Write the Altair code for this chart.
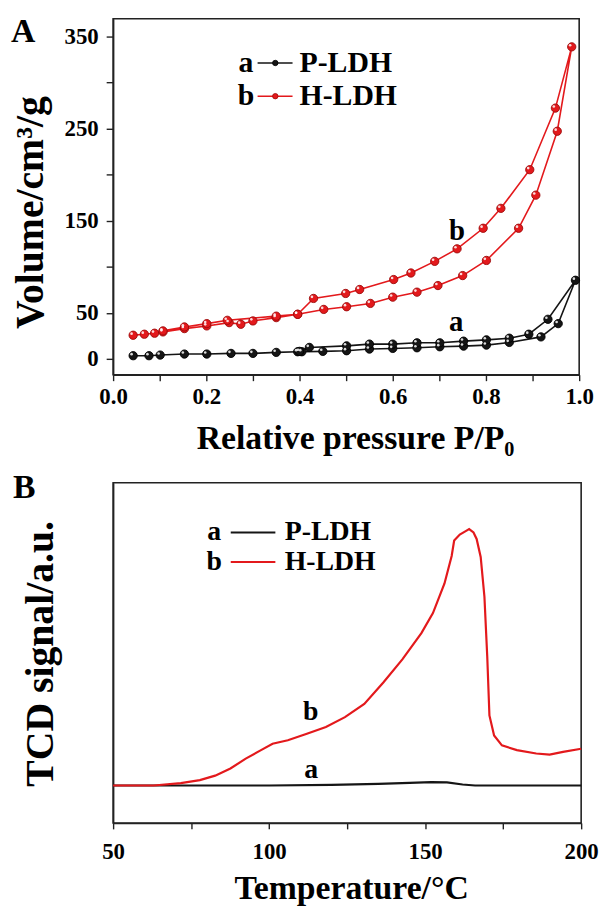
import altair as alt
import pandas as pd

FONT = "Liberation Serif"
RED = "#e3191c"
DARKRED = "#9b0a0a"
BLACK = "#151515"

# ---------------- Panel A : N2 adsorption-desorption isotherms ----------------
samples = ["P-LDH", "H-LDH"]

p_ads_x = [0.043, 0.077, 0.101, 0.153, 0.201, 0.253, 0.300, 0.350, 0.396, 0.405, 0.450,
           0.501, 0.550, 0.600, 0.652, 0.701, 0.752, 0.801, 0.850, 0.918, 0.955, 0.992]
p_ads_y = [3.6, 3.6, 4.3, 5.4, 5.4, 6.1, 6.1, 7.2, 7.9, 7.9, 8.3,
           9.0, 10.8, 11.5, 12.2, 13.3, 14.0, 15.1, 18.0, 24.0, 38.4, 85.4]
p_des_x = [0.933, 0.892, 0.850, 0.801, 0.752, 0.701, 0.652, 0.600, 0.550, 0.501, 0.421, 0.400]
p_des_y = [43.1, 26.9, 22.6, 20.8, 19.4, 17.6, 17.6, 16.2, 16.2, 14.3, 12.6, 8.3]

h_ads_x = [0.043, 0.067, 0.089, 0.107, 0.153, 0.201, 0.249, 0.274, 0.300, 0.350, 0.396, 0.452,
           0.501, 0.552, 0.600, 0.652, 0.697, 0.750, 0.801, 0.870, 0.907, 0.953, 0.984]
h_ads_y = [25.8, 26.9, 28.0, 29.4, 33.0, 35.9, 39.5, 37.7, 41.3, 44.9, 48.5, 53.8,
           56.7, 60.3, 67.1, 72.5, 79.7, 90.5, 106.9, 141.8, 177.7, 247.0, 338.5]
h_des_x = [0.949, 0.894, 0.832, 0.794, 0.738, 0.690, 0.639, 0.602, 0.529, 0.499, 0.430,
           0.396, 0.350, 0.245, 0.201, 0.153, 0.107]
h_des_y = [272.1, 205.3, 163.4, 141.8, 119.5, 105.9, 93.3, 86.2, 75.4, 71.1, 65.7,
           48.5, 46.5, 42.0, 38.4, 34.8, 30.5]

a_xticks = [0.0, 0.1, 0.2, 0.3, 0.4, 0.5, 0.6, 0.7, 0.8, 0.9, 1.0]
a_yticks = list(range(0, 351, 25))
a_ylabels = [0, 50, 150, 250, 350]

curve_tags = ["a", "b"]

# ---------------- Panel B : TCD signal ----------------
tcd_h_t = [50, 63, 71.7, 77.8, 82.7, 87.6, 92.5, 97.4, 101.1, 106, 112.1, 118.2, 124.3, 130.5,
           136.6, 142.7, 148.8, 152.5, 156.2, 158.5, 159.3, 161.1, 163, 164.1, 165.5, 166.5,
           167.8, 169.0, 169.9, 170.6, 172.1, 174.6, 179.4, 185.6, 189.9, 194.2, 200]
tcd_h_s = [11.0, 11.0, 11.7, 12.6, 13.9, 16.0, 18.9, 21.4, 23.3, 24.3, 26.2, 28.2, 31.1, 35.0,
           41.3, 48.1, 55.8, 61.7, 70.4, 78.5, 83.0, 84.8, 85.8, 86.4, 85.4, 83.5,
           78.2, 66.5, 49.0, 31.6, 25.7, 22.8, 21.4, 20.4, 20.1, 20.9, 21.8]
tcd_p_t = [50, 100, 120, 135, 145, 152, 157, 162, 166, 200]
tcd_p_s = [11.0, 11.0, 11.2, 11.5, 11.8, 12.0, 11.9, 11.3, 11.0, 11.0]

b_xticks = [50, 75, 100, 125, 150, 175, 200]

panel_letters = ["A", "B"]

# ---------------- build frames ----------------
def iso(name, ax, ay, dx, dy):
    xs = ax + dx
    ys = ay + dy
    return pd.DataFrame({"sample": name, "order": list(range(len(xs))), "p": xs, "v": ys})

dfA = pd.concat([iso(samples[0], p_ads_x, p_ads_y, p_des_x, p_des_y),
                 iso(samples[1], h_ads_x, h_ads_y, h_des_x, h_des_y)], ignore_index=True)

dfB = pd.concat([
    pd.DataFrame({"sample": samples[0], "t": tcd_p_t, "s": tcd_p_s}),
    pd.DataFrame({"sample": samples[1], "t": tcd_h_t, "s": tcd_h_s}),
], ignore_index=True)

col_scale = alt.Scale(domain=samples, range=[BLACK, RED])
stroke_scale = alt.Scale(domain=samples, range=["#000000", DARKRED])

LBL = 23
TTL_X = 34
TTL_Y = 40

# ---------------- Panel A chart ----------------
xA = alt.X("p:Q", scale=alt.Scale(domain=[0, 1], nice=False, zero=False),
           axis=alt.Axis(values=a_xticks, labelFlush=False, labelOverlap=False,
                         labelExpr="(round(datum.value*10) % 2 == 0) ? format(datum.value, '.1f') : ''",
                         title="Relative pressure P/P₀", titleX=244, titleY=64,
                         titleBaseline="middle", titleFontSize=TTL_X,
                         tickSize=6, labelPadding=5, grid=False))
yA = alt.Y("v:Q", scale=alt.Scale(domain=[-17, 369], nice=False, zero=False),
           axis=alt.Axis(values=a_yticks, labelOverlap=False,
                         labelExpr="indexof(%s, datum.value) >= 0 ? datum.label : ''" % str(a_ylabels),
                         title="Volume/cm³/g", titleX=-83, titleY=195, titleBaseline="middle",
                         titleFontSize=TTL_Y, tickSize=7, labelPadding=8, grid=False))

linesA = alt.Chart(dfA).mark_line(strokeWidth=1.6).encode(
    x=xA, y=yA, color=alt.Color("sample:N", scale=col_scale, legend=None),
    detail="sample:N", order="order:Q")
ptsA = alt.Chart(dfA).mark_point(filled=True, size=70, strokeWidth=0.9, opacity=1).encode(
    x="p:Q", y="v:Q",
    color=alt.Color("sample:N", scale=col_scale, legend=None),
    stroke=alt.Stroke("sample:N", scale=stroke_scale, legend=None))
hiA = alt.Chart(dfA).mark_point(filled=True, size=7, color="white", opacity=0.85).encode(
    x="p:Q", y="v:Q", xOffset=alt.value(-1.6), yOffset=alt.value(-1.6))

tagsA = pd.DataFrame({"tag": curve_tags, "p": [0.736, 0.738], "v": [40, 139]})
tagA = alt.Chart(tagsA).mark_text(font=FONT, fontWeight="bold", fontSize=29, color="black").encode(
    x="p:Q", y="v:Q", text="tag:N")

legA_line = pd.DataFrame({"sample": [samples[0]] * 2 + [samples[1]] * 2,
                          "p": [0.31, 0.385, 0.31, 0.385], "v": [321, 321, 285, 285]})
legA_pt = pd.DataFrame({"sample": samples, "p": [0.348, 0.348], "v": [321, 285]})
legA_txt = pd.DataFrame({"txt": curve_tags + samples,
                         "p": [0.285, 0.285, 0.40, 0.40], "v": [321, 285, 321, 285],
                         "al": ["center", "center", "left", "left"]})
legA1 = alt.Chart(legA_line).mark_line(strokeWidth=1.6).encode(
    x="p:Q", y="v:Q", color=alt.Color("sample:N", scale=col_scale, legend=None), detail="sample:N")
legA2 = alt.Chart(legA_pt).mark_point(filled=True, size=30, strokeWidth=0.8, opacity=1).encode(
    x="p:Q", y="v:Q", color=alt.Color("sample:N", scale=col_scale, legend=None),
    stroke=alt.Stroke("sample:N", scale=stroke_scale, legend=None))
legA3 = alt.Chart(legA_txt[legA_txt.al == "center"]).mark_text(
    font=FONT, fontWeight="bold", fontSize=30, align="center", baseline="middle").encode(
    x="p:Q", y="v:Q", text="txt:N")
legA4 = alt.Chart(legA_txt[legA_txt.al == "left"]).mark_text(
    font=FONT, fontWeight="bold", fontSize=30, align="left", baseline="middle").encode(
    x="p:Q", y="v:Q", text="txt:N")

letterA = alt.Chart(pd.DataFrame({"L": [panel_letters[0]]})).mark_text(
    font=FONT, fontWeight="bold", fontSize=34, align="left", baseline="alphabetic").encode(
    x=alt.value(-103), y=alt.value(23), text="L:N")

chartA = alt.layer(linesA, ptsA, hiA, tagA, legA1, legA2, legA3, legA4, letterA).properties(
    width=470, height=359)

# ---------------- Panel B chart ----------------
xB = alt.X("t:Q", scale=alt.Scale(domain=[50, 200], nice=False, zero=False),
           axis=alt.Axis(values=b_xticks, labelFlush=False, labelOverlap=False,
                         labelExpr="datum.value % 50 == 0 ? datum.label : ''",
                         title="Temperature/°C", titleX=240, titleY=66, titleBaseline="middle",
                         titleFontSize=TTL_X, tickSize=6, labelPadding=12, grid=False))
yB = alt.Y("s:Q", scale=alt.Scale(domain=[0, 100], nice=False, zero=False),
           axis=alt.Axis(ticks=False, labels=False, title="TCD signal/a.u.", titleX=-73,
                         titleY=172, titleBaseline="middle", titleFontSize=TTL_Y, grid=False))

linesB = alt.Chart(dfB).mark_line(strokeWidth=2.2).encode(
    x=xB, y=yB, color=alt.Color("sample:N", scale=col_scale, legend=None),
    strokeWidth=alt.StrokeWidth("sample:N", scale=alt.Scale(domain=samples, range=[1.4, 2.4]), legend=None),
    detail="sample:N")

tagsB = pd.DataFrame({"tag": curve_tags, "t": [113.5, 113.3], "s": [15.5, 32.5]})
tagB = alt.Chart(tagsB).mark_text(font=FONT, fontWeight="bold", fontSize=28, color="black").encode(
    x="t:Q", y="s:Q", text="tag:N")

legB_line = pd.DataFrame({"sample": [samples[0]] * 2 + [samples[1]] * 2,
                          "t": [87.7, 102, 87.7, 102], "s": [85.4, 85.4, 76.7, 76.7]})
legB_txt = pd.DataFrame({"txt": curve_tags + samples,
                         "t": [82.4, 82.4, 105.0, 105.0], "s": [85.4, 76.7, 85.4, 76.7],
                         "al": ["center", "center", "left", "left"]})
legB1 = alt.Chart(legB_line).mark_line(strokeWidth=2).encode(
    x="t:Q", y="s:Q", color=alt.Color("sample:N", scale=col_scale, legend=None), detail="sample:N")
legB3 = alt.Chart(legB_txt[legB_txt.al == "center"]).mark_text(
    font=FONT, fontWeight="bold", fontSize=28, align="center", baseline="middle").encode(
    x="t:Q", y="s:Q", text="txt:N")
legB4 = alt.Chart(legB_txt[legB_txt.al == "left"]).mark_text(
    font=FONT, fontWeight="bold", fontSize=28, align="left", baseline="middle").encode(
    x="t:Q", y="s:Q", text="txt:N")

letterB = alt.Chart(pd.DataFrame({"L": [panel_letters[1]]})).mark_text(
    font=FONT, fontWeight="bold", fontSize=34, align="left", baseline="alphabetic").encode(
    x=alt.value(-101), y=alt.value(15), text="L:N")

chartB = alt.layer(linesB, tagB, legB1, legB3, legB4, letterB).properties(width=472, height=343)

chart = alt.vconcat(chartA, chartB, spacing=109, bounds="flush").properties(
    padding={"left": 2, "top": 2, "right": 0, "bottom": 0}
).configure_view(stroke="#222222", strokeWidth=1.6).configure_axis(
    labelFont=FONT, labelFontWeight="bold", labelFontSize=LBL, labelColor="black",
    titleFont=FONT, titleFontWeight="bold", titleColor="black",
    domainColor="#222222", domainWidth=1.6, tickColor="#222222", tickWidth=1.4
)

chart.save("out.html", embed_options={"renderer": "svg", "actions": False})
